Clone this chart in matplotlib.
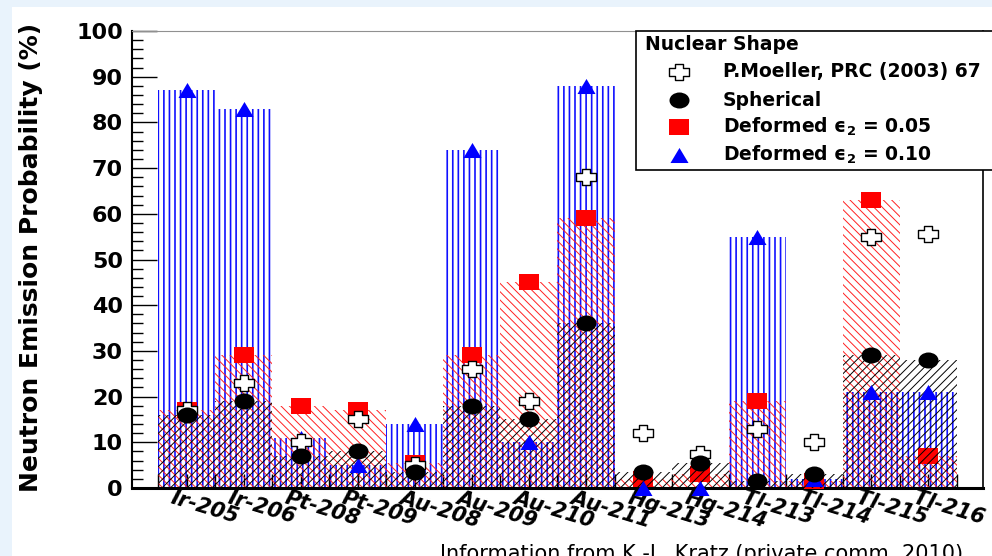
#!/usr/bin/env python
import numpy as np
import matplotlib
matplotlib.use("Agg")
import matplotlib.pyplot as plt
from matplotlib.path import Path
from matplotlib.patches import Rectangle
from matplotlib.lines import Line2D
from matplotlib.ticker import MultipleLocator
from matplotlib.transforms import ScaledTranslation

# nuclei and neutron emission probabilities (%)
nuclei = ['Ir-205', 'Ir-206', 'Pt-208', 'Pt-209', 'Au-208', 'Au-209', 'Au-210',
          'Au-211', 'Hg-213', 'Hg-214', 'Tl-213', 'Tl-214', 'Tl-215', 'Tl-216']
moeller = [17, 23, 10, 15, 5, 26, 19, 68, 12, 7.5, 13, 10, 55, 55.5]
spherical = [16, 19, 7, 8, 3.5, 18, 15, 36, 3.5, 5.5, 1.5, 3, 29, 28]
deformed_005 = [17, 29, 18, 17, 5.5, 29, 45, 59, 2, 3, 19, 1.5, 63, 7]
deformed_010 = [87, 83, 11, 5, 14, 74, 10, 88, 0, 0, 55, 2, 21, 21]

plt.rcParams['font.family'] = ['DejaVu Sans']
plt.rcParams['font.weight'] = 'bold'

# ROOT-like markers, a bit wider than tall
_c = Path.unit_circle()
m_circle = Path(_c.vertices * [1.25, 1.0], _c.codes)
m_square = Path([(-1.25, -1), (1.25, -1), (1.25, 1), (-1.25, 1), (-1.25, -1)],
                [Path.MOVETO] + [Path.LINETO] * 3 + [Path.CLOSEPOLY])
m_tri = Path([(-1.2, -1), (1.2, -1), (0, 1), (-1.2, -1)],
             [Path.MOVETO, Path.LINETO, Path.LINETO, Path.CLOSEPOLY])
a, b, w = 0.47, 0.45, 1.3
m_cross = Path([(-a, 1), (a, 1), (a, b), (w, b), (w, -b), (a, -b), (a, -1),
                (-a, -1), (-a, -b), (-w, -b), (-w, b), (-a, b), (-a, 1)],
               [Path.MOVETO] + [Path.LINETO] * 11 + [Path.CLOSEPOLY])

sty_moeller = dict(marker=m_cross, ms=15, mfc='white', mec='black', mew=1.0, ls='none')
sty_sph = dict(marker=m_circle, ms=14.4, mfc='black', mec='black', mew=0, ls='none')
sty_d05 = dict(marker=m_square, ms=14.4, mfc='red', mec='red', mew=0, ls='none')
sty_d10 = dict(marker=m_tri, ms=13, mfc='blue', mec='blue', mew=0, ls='none')

fig = plt.figure(figsize=(9.92, 5.56), dpi=100)
fig.patch.set_facecolor('#e9f3fc')
fig.add_artist(Rectangle((12 / 992, 0), 1, 1 - 7 / 556, transform=fig.transFigure,
                         facecolor='white', edgecolor='none', zorder=-10))

ax = fig.add_axes([132 / 992, 1 - 488 / 556, 851 / 992, 457 / 556])
ax.set_facecolor('none')
x = np.arange(len(nuclei))

with plt.rc_context({'hatch.linewidth': 1.2}):
    ax.bar(x, deformed_010, width=1.0, facecolor='none', edgecolor='#1010ff',
           linewidth=0, hatch='|||', zorder=1)
with plt.rc_context({'hatch.linewidth': 0.7}):
    ax.bar(x, deformed_005, width=1.0, facecolor='none', edgecolor='#ff2020',
           linewidth=0, hatch='\\\\\\\\', zorder=2)
ax.plot(x, deformed_005, zorder=3, clip_on=False, **sty_d05)
with plt.rc_context({'hatch.linewidth': 0.7}):
    ax.bar(x, spherical, width=1.0, facecolor='none', edgecolor='black',
           linewidth=0, hatch='////', zorder=4)
ax.plot(x, deformed_010, zorder=5, clip_on=False, **sty_d10)
ax.plot(x, moeller, zorder=6, clip_on=False, **sty_moeller)
ax.plot(x, spherical, zorder=7, clip_on=False, **sty_sph)

ax.set_xlim(-0.955, 13.956)
ax.set_ylim(0, 100)

ax.set_yticks(np.arange(0, 101, 10))
ax.yaxis.set_minor_locator(MultipleLocator(2))
ax.tick_params(axis='y', which='major', direction='in', length=18, width=1,
               labelsize=16, pad=6.5)
ax.tick_params(axis='y', which='minor', direction='in', length=8, width=1)

ax.set_xticks(x)
ax.set_xticks(np.arange(-0.5, 14, 1), minor=True)
ax.set_xticklabels(nuclei, rotation=-17, ha='left', va='top',
                   rotation_mode='anchor', style='italic', fontsize=15)
ax.tick_params(axis='x', which='both', direction='in', length=10, width=1, pad=0)
shift = ScaledTranslation(-0.12, 0, fig.dpi_scale_trans)
for lab in ax.get_xticklabels():
    lab.set_transform(lab.get_transform() + shift)

ax.set_ylabel('Neutron Emission Probability (%)', fontsize=18, fontweight='bold')
ax.yaxis.set_label_coords(-0.1046, 0.504)

ax.spines['top'].set_color('#909090')
ax.spines['top'].set_linewidth(0.8)
ax.spines['right'].set_linewidth(1.2)
ax.spines['left'].set_linewidth(1.5)
ax.spines['bottom'].set_linewidth(2.2)

# legend box
fig.add_artist(Rectangle((636 / 992, 1 - 170 / 556), 0.5, 139 / 556,
                         transform=fig.transFigure, facecolor='white',
                         edgecolor='black', linewidth=1.2, zorder=5))
fig.text(645 / 992, 1 - 44.5 / 556, 'Nuclear Shape', fontsize=13.5,
         va='center', ha='left', zorder=6)
entries = [
    (sty_moeller, 'P.Moeller, PRC (2003) 67', 71.5),
    (sty_sph, 'Spherical', 100),
    (sty_d05, 'Deformed ϵ$_2$ = 0.05', 127),
    (sty_d10, 'Deformed ϵ$_2$ = 0.10', 155),
]
for sty, txt, ypx in entries:
    yf = 1 - ypx / 556
    fig.add_artist(Line2D([679 / 992], [yf], transform=fig.transFigure, zorder=6, **sty))
    fig.text(723 / 992, yf, txt, fontsize=13.5, va='center', ha='left', zorder=6)

fig.text(440 / 992, 1 - 560 / 556, 'Information from K.-L. Kratz (private comm. 2010)',
         fontsize=15, fontweight='normal', va='baseline', ha='left')

fig.savefig('out.png', dpi=100, facecolor=fig.get_facecolor())
